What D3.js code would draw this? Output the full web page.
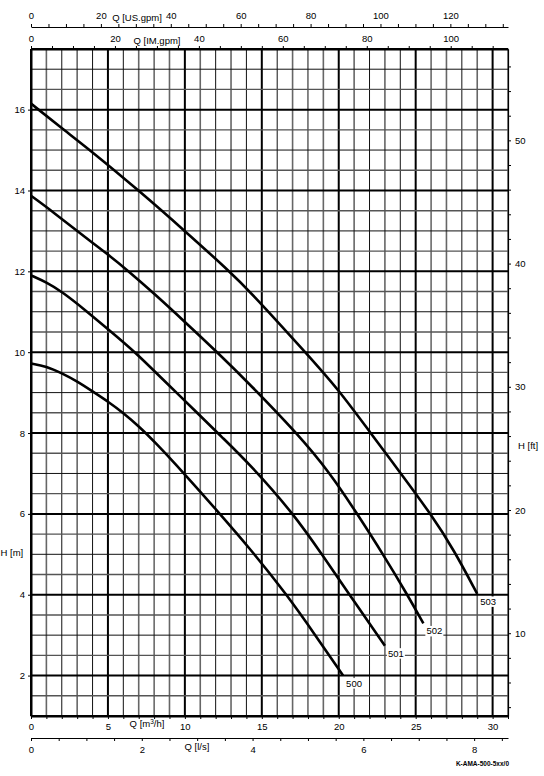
<!DOCTYPE html>
<html><head><meta charset="utf-8">
<script src="https://cdn.jsdelivr.net/npm/d3@7"></script>
<style>
body{margin:0;background:#fff}
text{font-family:"Liberation Sans",Arial,sans-serif;fill:#000}
</style>
</head><body><svg id="c" width="544" height="776"></svg>
<script>
// ---- data ----
const curveNames = ["500","501","502","503"];
const q500 = [0,1,2,3,4,5,6,7,8,10,12,14.24,16.63,18.48,20.28];
const h500 = [9.72,9.65,9.48,9.28,9.03,8.78,8.5,8.17,7.8,6.98,6.12,5.14,4.0,3.0,2.0];
const q501 = [0,1,2,3.5,5,6.78,8.5,10.59,12.4,14.24,17.07,18.9,20.7,23.0];
const h501 = [11.9,11.73,11.5,11.05,10.57,10.0,9.35,8.58,7.9,7.22,6.0,5.0,4.0,2.74];
const q502 = [0,1.5,2.98,5,6.35,8,10,12.1,14.24,17.28,19.46,21.2,22.93,24.46,25.5];
const h502 = [13.87,13.45,13.0,12.42,12.0,11.45,10.75,10.0,9.2,8.0,7.0,6.0,4.97,4.0,3.29];
const q503 = [0,1.96,4,7,10,12.9,14.24,17.83,20,22.07,24,25.98,27.5,29.0];
const h503 = [16.15,15.55,14.95,14.0,13.0,12.0,11.5,10.0,9.07,8.0,7.02,6.0,5.1,4.02];
const qSeries = [q500,q501,q502,q503];
const hSeries = [h500,h501,h502,h503];

const hTickLabels = [2,4,6,8,10,12,14,16];
const ftTickLabels = [10,20,30,40,50];
const usTickLabels = [0,20,40,60,80,100,120];
const imTickLabels = [0,20,40,60,80,100];
const m3TickLabels = [0,5,10,15,20,25,30];
const lsTickLabels = [0,2,4,6,8];

// unit conversions
const US_PER_M3H = 4.40287, IM_PER_M3H = 3.66615, LS_PER_M3H = 1/3.6, FT_PER_M = 3.28084;
const Q_MAX = 31, H_MIN = 1, H_MAX = 17.5;

// ---- layout ----
const L = 31, R = 508, T = 49, B = 716;
const svg = d3.select("#c");
const x = d3.scaleLinear().domain([0,Q_MAX]).range([L,R]);
const xUS = d3.scaleLinear().domain([0,Q_MAX*US_PER_M3H]).range([L,R]);
const xIM = d3.scaleLinear().domain([0,Q_MAX*IM_PER_M3H]).range([L,R]);
const xLS = d3.scaleLinear().domain([0,Q_MAX*LS_PER_M3H]).range([L,R]);
const y = d3.scaleLinear().domain([H_MIN,H_MAX]).range([B,T]);
const yFt = d3.scaleLinear().domain([H_MIN*FT_PER_M,H_MAX*FT_PER_M]).range([B,T]);

// ---- grid ----
const g = svg.append("g");
d3.range(0,Q_MAX+0.001,1).forEach(q=>{
  const major = q%5===0;
  g.append("line").attr("x1",x(q)).attr("x2",x(q)).attr("y1",T).attr("y2",B)
   .attr("stroke", major ? "#000" : (q%2===0 ? "#111" : "#666"))
   .attr("stroke-width", major ? 2 : (q%2===0 ? 1 : 1.6));
});
d3.range(H_MIN,H_MAX+0.001,0.5).forEach(h=>{
  const major = (h%2===0) || h===H_MIN || h===H_MAX;
  g.append("line").attr("x1",L).attr("x2",R).attr("y1",y(h)).attr("y2",y(h))
   .attr("stroke", major ? "#000" : (h%1===0 ? "#111" : "#555"))
   .attr("stroke-width", major ? 2 : (h%1===0 ? 1 : 1.4));
});

function styleAxis(sel, fs){
  sel.selectAll("path").attr("stroke","#000").attr("stroke-width",1.2);
  sel.selectAll("line").attr("stroke","#000").attr("stroke-width",1);
  sel.selectAll("text").attr("font-size",fs).attr("font-family","Liberation Sans, Arial, sans-serif");
}
const fmt = labels => d => labels.includes(+d.toFixed(3)) ? d3.format("d")(d) : "";

// top US gpm
const aUS = svg.append("g").attr("transform","translate(0,27)")
  .call(d3.axisTop(xUS).tickValues(d3.range(0,136,5)).tickSize(3).tickSizeOuter(0).tickPadding(5).tickFormat(fmt(usTickLabels)));
styleAxis(aUS,9.5);
// top IM gpm
const aIM = svg.append("g").attr("transform",`translate(0,${T})`)
  .call(d3.axisTop(xIM).tickValues(d3.range(0,111,5)).tickSize(3).tickSizeOuter(0).tickPadding(4).tickFormat(fmt(imTickLabels)));
styleAxis(aIM,9.5);
aIM.select("path").attr("stroke-width",2);
// bottom m3/h
const aM3 = svg.append("g").attr("transform",`translate(0,${B})`)
  .call(d3.axisBottom(x).tickValues(d3.range(0,Q_MAX+0.001,1)).tickSize(3).tickSizeOuter(0).tickPadding(4).tickFormat(fmt(m3TickLabels)));
styleAxis(aM3,9.5);
aM3.select("path").attr("stroke-width",2);
// bottom l/s
const aLS = svg.append("g").attr("transform","translate(0,738)")
  .call(d3.axisBottom(xLS).tickValues(d3.range(0,8.51,0.5)).tickSize(3).tickSizeOuter(0).tickPadding(5).tickFormat(fmt(lsTickLabels)));
styleAxis(aLS,9.5);
// left H m
const aH = svg.append("g").attr("transform",`translate(${L},0)`)
  .call(d3.axisLeft(y).tickValues(hTickLabels).tickSize(3).tickSizeOuter(0).tickPadding(3).tickFormat(d3.format("d")));
styleAxis(aH,9.5);
aH.select("path").attr("stroke-width",2);
// right H ft
const aFt = svg.append("g").attr("transform",`translate(${R},0)`)
  .call(d3.axisRight(yFt).tickValues(d3.range(4,57,2)).tickSize(3).tickSizeOuter(0).tickPadding(4).tickFormat(fmt(ftTickLabels)));
styleAxis(aFt,9.5);

// axis titles
const title = (t,xx,yy,anchor) => svg.append("text").attr("x",xx).attr("y",yy)
  .attr("text-anchor",anchor||"middle").attr("font-size",9.5).text(t);
title("Q [US.gpm]",137,21);
title("Q [IM.gpm]",157,44);
const tm = svg.append("text").attr("x",147).attr("y",727).attr("text-anchor","middle").attr("font-size",9.5);
tm.append("tspan").text("Q [m");
tm.append("tspan").attr("font-size",6.5).attr("dy",-3.5).text("3");
tm.append("tspan").attr("dy",3.5).text("/h]");
title("Q [l/s]",197,750);
title("H [m]",0.5,556,"start");
title("H [ft]",518,449,"start");
svg.append("text").attr("x",509).attr("y",766).attr("text-anchor","end")
  .attr("font-size",6.5).attr("font-weight","bold").text("K-AMA-500-5xx/0");

// ---- curves ----
const line = d3.line().x(d=>x(d[0])).y(d=>y(d[1])).curve(d3.curveBasis);
curveNames.forEach((name,i)=>{
  const pts = qSeries[i].map((q,j)=>[q,hSeries[i][j]]);
  svg.append("path").datum(pts).attr("d",line).attr("fill","none")
    .attr("stroke","#000").attr("stroke-width",2.6).attr("stroke-linecap","butt");
  const end = pts[pts.length-1];
  const lx = x(end[0])+11, ly = y(end[1])+11;
  svg.append("rect").attr("x",lx-9).attr("y",ly-8.5).attr("width",18).attr("height",10.5).attr("fill","#fff");
  svg.append("text").attr("x",lx).attr("y",ly).attr("text-anchor","middle").attr("font-size",9.5).text(name);
});
</script>
</body></html>
